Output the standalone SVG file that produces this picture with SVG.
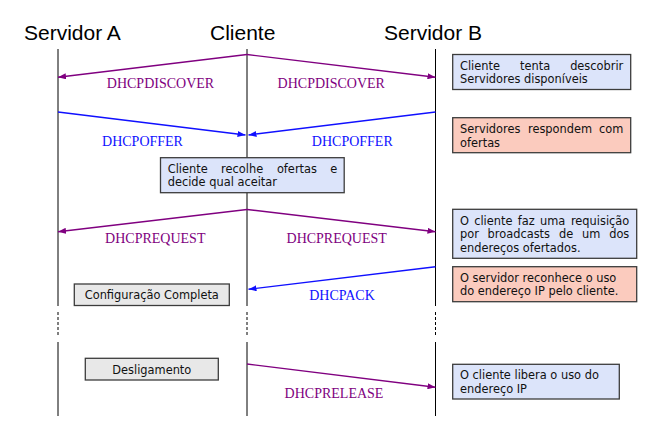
<svg xmlns="http://www.w3.org/2000/svg" width="657" height="432" viewBox="0 0 657 432">
<defs>
<marker id="ap" viewBox="0 0 8 6" refX="8" refY="3" markerWidth="8" markerHeight="6" markerUnits="userSpaceOnUse" orient="auto"><path d="M0,0 L8,3 L0,6 z" fill="#800080"/></marker>
<marker id="ab" viewBox="0 0 8 6" refX="8" refY="3" markerWidth="8" markerHeight="6" markerUnits="userSpaceOnUse" orient="auto"><path d="M0,0 L8,3 L0,6 z" fill="#1010ff"/></marker>
</defs>
<style>
.title{font-family:"Liberation Sans",Arial,sans-serif;font-size:21px;fill:#000}
.life{stroke:#000;stroke-width:1;fill:none}
.dash{stroke:#000;stroke-width:1;fill:none;stroke-dasharray:3 2}
.mp{stroke:#800080;stroke-width:1.4;fill:none;marker-end:url(#ap)}
.mb{stroke:#1010ff;stroke-width:1.4;fill:none;marker-end:url(#ab)}
.lp{font-family:"Liberation Serif","Times New Roman",serif;font-size:14px;fill:#800080;text-anchor:middle}
.lb{font-family:"Liberation Serif","Times New Roman",serif;font-size:14px;fill:#1010ff;text-anchor:middle}
.bx{stroke:#3c3c3c;stroke-width:1.3}
.blue{fill:#dce4fa}
.red{fill:#fbcbbe}
.gray{fill:#e8e8e8}
.t{font-family:"DejaVu Sans",Verdana,sans-serif;font-size:11.4px;fill:#111}
.c{text-anchor:middle}
.e{text-anchor:end}
</style>
<g id="titles">
<text class="title" x="24" y="40">Servidor A</text>
<text class="title" x="210" y="40">Cliente</text>
<text class="title" x="384" y="40">Servidor B</text>
</g>
<g id="lifelines">
<path class="life" d="M58,49 V306 M58,342 V416 M247,49 V306 M247,342 V416 M435.5,49 V306 M435.5,342 V416"/>
<path class="dash" d="M58,312 V336 M247,312 V336 M435.5,312 V336"/>
</g>
<g id="connectors">
<path class="mp" d="M247,54.5 L58,77.3"/>
<path class="mp" d="M247,54.5 L435.5,77.3"/>
<path class="mb" d="M58,112 L245.5,135"/>
<path class="mb" d="M435.5,112 L248.5,135"/>
<path class="mp" d="M247,209.5 L58,231.7"/>
<path class="mp" d="M247,209.5 L435.5,231.7"/>
<path class="mb" d="M435.5,266.7 L248.5,289.3"/>
<path class="mp" d="M247,364 L435.5,387.3"/>
<text class="lp" x="160.5" y="87.5">DHCPDISCOVER</text>
<text class="lp" x="331.3" y="87.5">DHCPDISCOVER</text>
<text class="lb" x="142.5" y="146">DHCPOFFER</text>
<text class="lb" x="352.3" y="146">DHCPOFFER</text>
<text class="lp" x="155.3" y="243">DHCPREQUEST</text>
<text class="lp" x="336.7" y="243">DHCPREQUEST</text>
<text class="lb" x="342" y="300.3">DHCPACK</text>
<text class="lp" x="334" y="397.5">DHCPRELEASE</text>
</g>
<g id="note-discover">
<rect class="bx blue" x="452.7" y="54.5" width="178" height="35"/>
<text class="t" y="70"><tspan x="460">Cliente</tspan><tspan x="520">tenta</tspan><tspan x="623.3" class="e">descobrir</tspan></text>
<text class="t" x="460" y="83.3">Servidores disponíveis</text>
</g>
<g id="note-offer">
<rect class="bx red" x="452.7" y="117.7" width="178" height="35"/>
<text class="t" y="133.3"><tspan x="460">Servidores</tspan><tspan x="528">respondem</tspan><tspan x="623.3" class="e">com</tspan></text>
<text class="t" x="460" y="146.7">ofertas</text>
</g>
<g id="client-decide">
<rect class="bx blue" x="160.5" y="157.7" width="183.7" height="35"/>
<text class="t" y="172.7"><tspan x="167.7">Cliente</tspan><tspan x="221.1">recolhe</tspan><tspan x="276.9">ofertas</tspan><tspan x="337.3" class="e">e</tspan></text>
<text class="t" x="167.7" y="186">decide qual aceitar</text>
</g>
<g id="note-request">
<rect class="bx blue" x="452.7" y="209.3" width="184" height="49"/>
<text class="t" y="225"><tspan x="460">O</tspan><tspan x="474.2">cliente</tspan><tspan x="517.8">faz</tspan><tspan x="540">uma</tspan><tspan x="629.3" class="e">requisição</tspan></text>
<text class="t" y="238.3"><tspan x="460">por</tspan><tspan x="487.6">broadcasts</tspan><tspan x="559.1">de</tspan><tspan x="582.1">um</tspan><tspan x="629.3" class="e">dos</tspan></text>
<text class="t" x="460" y="251.7">endereços ofertados.</text>
</g>
<g id="note-ack">
<rect class="bx red" x="452.7" y="266.7" width="184" height="35"/>
<text class="t" x="460" y="281.7">O servidor reconhece o uso</text>
<text class="t" x="460" y="295">do endereço IP pelo cliente.</text>
</g>
<g id="config-complete">
<rect class="bx gray" x="74.3" y="284" width="155" height="21.5"/>
<text class="t c" x="151.8" y="298.5">Configuração Completa</text>
</g>
<g id="shutdown">
<rect class="bx gray" x="85.3" y="358.3" width="133" height="21.7"/>
<text class="t c" x="151.8" y="373.5">Desligamento</text>
</g>
<g id="note-release">
<rect class="bx blue" x="452.7" y="364.3" width="166.6" height="34.7"/>
<text class="t" x="460" y="379.3">O cliente libera o uso do</text>
<text class="t" x="460" y="392.5">endereço IP</text>
</g>
</svg>
